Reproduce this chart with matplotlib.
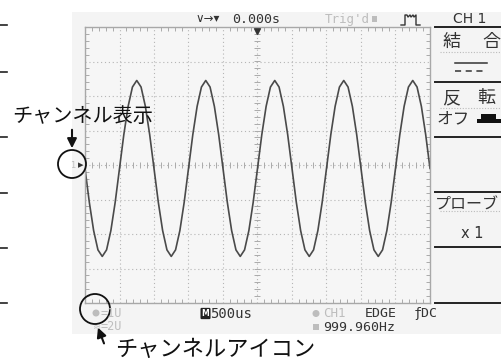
import numpy as np
import matplotlib
matplotlib.use("Agg")
import matplotlib.pyplot as plt
from matplotlib.patches import Rectangle, Circle

# ---------------- data ----------------
# CH1 trace in volts (1 V/div), sampled every 0.0625 ms from -2.5 ms to +2.5 ms (500 us/div)
trace_volts = [
    -0.10, -1.08, -1.90, -2.46, -2.65, -2.46, -1.90, -1.08,
    -0.10, 0.88, 1.70, 2.26, 2.45, 2.26, 1.70, 0.88,
    -0.10, -1.08, -1.90, -2.46, -2.65, -2.46, -1.90, -1.08,
    -0.10, 0.88, 1.70, 2.26, 2.45, 2.26, 1.70, 0.88,
    -0.10, -1.08, -1.90, -2.46, -2.65, -2.46, -1.90, -1.08,
    -0.10, 0.88, 1.70, 2.26, 2.45, 2.26, 1.70, 0.88,
    -0.10, -1.08, -1.90, -2.46, -2.65, -2.46, -1.90, -1.08,
    -0.10, 0.88, 1.70, 2.26, 2.45, 2.26, 1.70, 0.88,
    -0.10, -1.08, -1.90, -2.46, -2.65, -2.46, -1.90, -1.08,
    -0.10, 0.88, 1.70, 2.26, 2.45, 2.26, 1.70, 0.88,
    -0.10,
]
time_start_ms = -2.5
time_step_ms = 0.0625
time_ms = time_start_ms + time_step_ms * np.arange(len(trace_volts))

time_div_ms = 0.5
volt_div = 1.0
n_hdiv = 10
n_vdiv = 8

top_left_text = "0.000s"
trig_text = "Trig'd"
panel_title = "CH 1"
panel_labels = ["結　合", "反　転", "オフ", "プローブ", "x 1"]
timebase_text = "500us"
trig_src = "CH1"
trig_type = "EDGE"
trig_coupling = "ƒDC"
freq_text = "999.960Hz"
ch1_scale = "=1U"
ch2_scale = "=2U"
note_top = "チャンネル表示"
note_bottom = "チャンネルアイコン"

# ---------------- figure ----------------
W, H = 501, 360
fig = plt.figure(figsize=(W / 100, H / 100), dpi=100)
fig.patch.set_facecolor("white")

def fx(px):
    return px / W

def fy(py):
    return 1 - py / H

# background axes (pixel coordinates)
bg = fig.add_axes([0, 0, 1, 1], zorder=0)
bg.set_xlim(0, W)
bg.set_ylim(H, 0)
bg.axis("off")
bg.add_patch(Rectangle((72, 12), W - 72, 322, facecolor="#f4f4f4", edgecolor="none"))
for yy in [25, 72, 137, 193, 248, 303]:
    bg.plot([0, 7], [yy, yy], color="#222", lw=1.2)

# plot (graticule) axes
L, R, T, B = 85, 430, 27, 303
ax = fig.add_axes([fx(L), fy(B), fx(R - L), (B - T) / H], zorder=1)
ax.set_facecolor("#f6f6f6")
half_t = n_hdiv / 2 * time_div_ms
half_v = n_vdiv / 2 * volt_div
ax.set_xlim(-half_t, half_t)
ax.set_ylim(-half_v, half_v)
ax.set_xticks(np.arange(-half_t, half_t + 1e-9, time_div_ms))
ax.set_yticks(np.arange(-half_v, half_v + 1e-9, volt_div))
ax.set_xticks(np.arange(-half_t, half_t + 1e-9, time_div_ms / 5), minor=True)
ax.set_yticks(np.arange(-half_v, half_v + 1e-9, volt_div / 5), minor=True)
ax.tick_params(which="both", direction="in", top=True, right=True,
               labelbottom=False, labelleft=False, color="#aaa")
ax.tick_params(which="major", length=0)
ax.tick_params(which="minor", length=3, width=0.7)
ax.grid(True, which="major", color="#b5b5b5", lw=0.8, linestyle=(0, (1, 2.5)))
for s in ax.spines.values():
    s.set_color("#a8a8a8")
    s.set_linewidth(1.0)
# centre cross with fine ticks
mx = np.arange(-half_t, half_t + 1e-9, time_div_ms / 5)
my = np.arange(-half_v, half_v + 1e-9, volt_div / 5)
ax.plot(mx, np.zeros_like(mx), linestyle="none", marker="|", ms=4, mew=0.7, color="#aaa")
ax.plot(np.zeros_like(my), my, linestyle="none", marker="_", ms=4, mew=0.7, color="#aaa")
# trace
ax.plot(time_ms, trace_volts, color="#4a4a4a", lw=1.2)
# trigger position marker
ax.plot([0], [half_v - 0.12], marker="v", ms=5, color="#333", clip_on=False)

# overlay axes for screen text and notes
ov = fig.add_axes([0, 0, 1, 1], zorder=3)
ov.set_xlim(0, W)
ov.set_ylim(H, 0)
ov.axis("off")
ov.patch.set_alpha(0)

mono = "DejaVu Sans Mono"
jp = ["Noto Sans CJK JP", "DejaVu Sans"]
dark = "#333333"
faint = "#bdbdbd"

# top bar
ov.text(195, 19, "∨→▾", fontsize=8.5, color=dark, va="center", ha="left", family="DejaVu Sans")
ov.text(232, 19.5, top_left_text, fontsize=9.5, color=dark, va="center", ha="left", family=mono)
ov.text(325, 19.5, trig_text, fontsize=9, color=faint, va="center", ha="left", family=mono)
ov.add_patch(Rectangle((372, 16), 5, 6, facecolor=faint, edgecolor="none"))
ov.plot([401, 405, 405, 407, 408, 410, 411, 413, 414, 416, 416, 420],
        [25, 25, 15, 15, 17, 15, 17, 15, 17, 15, 25, 25], color=dark, lw=1.0)
ov.text(470, 19, panel_title, fontsize=10, color=dark, va="center", ha="center", family="DejaVu Sans")

# right panel
for yy in [27, 82, 137, 192, 247, 303]:
    ov.plot([435, 501], [yy, yy], color="#222", lw=1.4)
for yy in [52, 108, 211]:
    ov.plot([440, 501], [yy, yy], color="#bbb", lw=0.8, linestyle=(0, (1, 1.5)))
ov.text(452, 42, "結", fontsize=13, color=dark, va="center", ha="center", family=jp)
ov.text(491, 42, "合", fontsize=13, color=dark, va="center", ha="center", family=jp)
ov.plot([455, 487], [63, 63], color=dark, lw=1.1)
ov.plot([455, 487], [71, 71], color=dark, lw=1.1, linestyle=(0, (4, 3)))
ov.text(451, 98, "反", fontsize=13, color=dark, va="center", ha="center", family=jp)
ov.text(486, 98, "転", fontsize=13, color=dark, va="center", ha="center", family=jp)
ov.text(437, 119, panel_labels[2], fontsize=12, color=dark, va="center", ha="left", family=jp)
ov.add_patch(Rectangle((481, 114), 15, 6, facecolor="#111", edgecolor="none"))
ov.add_patch(Rectangle((477, 119), 25, 4, facecolor="#111", edgecolor="none"))
ov.text(435, 205, panel_labels[3], fontsize=11.5, color=dark, va="center", ha="left", family=jp)
ov.text(472, 234, panel_labels[4], fontsize=10.5, color=dark, va="center", ha="center", family="DejaVu Sans")

# channel marker on left of graticule
ov.text(73, 165, "1", fontsize=6, color=faint, va="center", ha="center", family="DejaVu Sans")
ov.text(81, 165, "▸", fontsize=8, color=dark, va="center", ha="center", family="DejaVu Sans")

# bottom status
ov.add_patch(Circle((96, 313), 3.5, facecolor=faint, edgecolor="none"))
ov.text(101, 313.5, ch1_scale, fontsize=8.5, color=faint, va="center", ha="left", family=mono)
ov.text(93, 327, "≈", fontsize=7, color=faint, va="center", ha="left", family="DejaVu Sans")
ov.text(101, 327, ch2_scale, fontsize=8.5, color=faint, va="center", ha="left", family=mono)
ov.text(205.5, 313.5, "M", fontsize=5.5, color="white", va="center", ha="center",
        family="DejaVu Sans", weight="bold",
        bbox=dict(boxstyle="round,pad=0.15", facecolor="#222", edgecolor="none"))
ov.text(210, 313.5, timebase_text, fontsize=10, color=dark, va="center", ha="left", family=mono)
ov.add_patch(Circle((316, 313.5), 3.5, facecolor=faint, edgecolor="none"))
ov.text(323, 313.5, trig_src, fontsize=9, color=faint, va="center", ha="left", family=mono)
ov.text(365, 313.5, trig_type, fontsize=9.5, color=dark, va="center", ha="left", family=mono)
ov.text(414, 313.5, trig_coupling, fontsize=9.5, color=dark, va="center", ha="left", family=mono)
ov.add_patch(Rectangle((313, 324), 6, 6, facecolor=faint, edgecolor="none"))
ov.text(323, 327.5, freq_text, fontsize=9.5, color=dark, va="center", ha="left", family=mono)

# annotations
ov.text(12, 116, note_top, fontsize=14.5, color="#111", va="center", ha="left", family=jp)
ov.annotate("", xy=(72, 151), xytext=(72, 127),
            arrowprops=dict(arrowstyle="-|>", color="#111", lw=1.5, mutation_scale=14))
ov.add_patch(Circle((72, 164), 14, facecolor="none", edgecolor="#111", lw=1.3))
ov.add_patch(Circle((95, 309), 15, facecolor="none", edgecolor="#111", lw=1.3))
ov.annotate("", xy=(97, 325), xytext=(105, 346),
            arrowprops=dict(arrowstyle="-|>", color="#111", lw=1.5, mutation_scale=14))
ov.text(115, 350, note_bottom, fontsize=16, color="#111", va="center", ha="left", family=jp)

fig.savefig("out.png", dpi=100)
